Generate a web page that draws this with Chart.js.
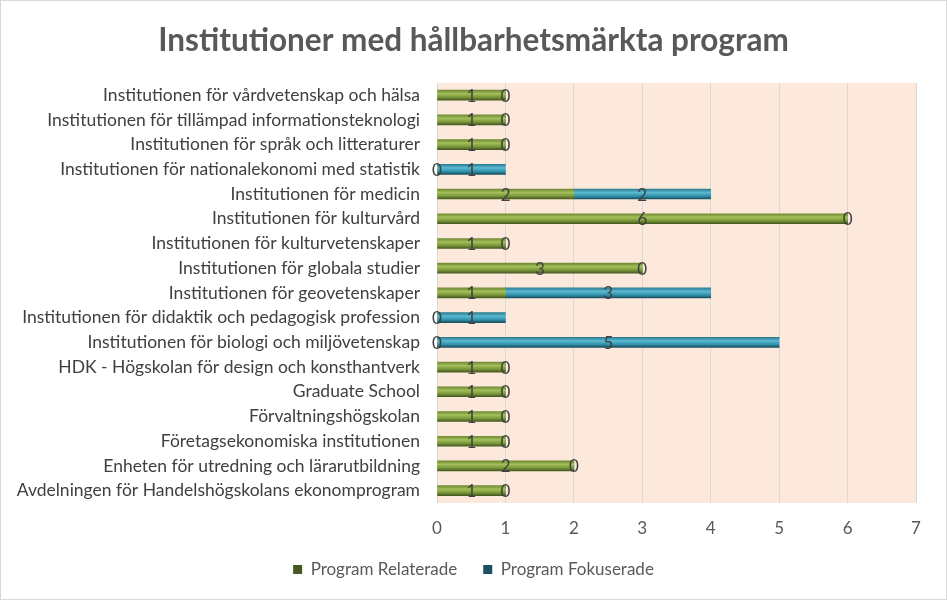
<!DOCTYPE html>
<html>
<head>
<meta charset="utf-8">
<script src="https://cdn.jsdelivr.net/npm/chart.js@4/dist/chart.umd.min.js"></script>
<style>
  html, body { margin: 0; padding: 0; background: #fff; }
  #wrap { width: 947px; height: 600px; position: relative; }
</style>
</head>
<body>
<div id="wrap"><canvas id="chart"></canvas></div>
<script>
// Categories, top to bottom as shown
const institutions = [
  'Institutionen för vårdvetenskap och hälsa',
  'Institutionen för tillämpad informationsteknologi',
  'Institutionen för språk och litteraturer',
  'Institutionen för nationalekonomi med statistik',
  'Institutionen för medicin',
  'Institutionen för kulturvård',
  'Institutionen för kulturvetenskaper',
  'Institutionen för globala studier',
  'Institutionen för geovetenskaper',
  'Institutionen för didaktik och pedagogisk profession',
  'Institutionen för biologi och miljövetenskap',
  'HDK - Högskolan för design och konsthantverk',
  'Graduate School',
  'Förvaltningshögskolan',
  'Företagsekonomiska institutionen',
  'Enheten för utredning och lärarutbildning',
  'Avdelningen för Handelshögskolans ekonomprogram'
];

const relaterade = [1, 1, 1, 0, 2, 6, 1, 3, 1, 0, 0, 1, 1, 1, 1, 2, 1];
const fokuserade = [0, 0, 0, 1, 2, 0, 0, 0, 3, 1, 5, 0, 0, 0, 0, 0, 0];

const xMin = 0;
const xMax = 7;

const FONT = 'Lato, "Open Sans", sans-serif';

// vertical shading so the thin bars look like the rounded Excel bars
function shaded(stops, flat) {
  return (c) => {
    if (c.type !== 'data') return flat;
    const y = c.chart.scales.y;
    if (!y) return flat;
    const mid = y.getPixelForValue(c.dataIndex);
    if (!Number.isFinite(mid)) return flat;
    const g = c.chart.ctx.createLinearGradient(0, mid - 5, 0, mid + 5);
    g.addColorStop(0, stops[0]);
    g.addColorStop(0.35, stops[1]);
    g.addColorStop(0.7, stops[2]);
    g.addColorStop(1, stops[3]);
    return g;
  };
}

const greenStops = ['#6f8a32', '#a2c05a', '#7a973a', '#46591f'];
const blueStops = ['#2a7d92', '#5cb8d1', '#3193ad', '#1a5060'];

const backdrop = {
  id: 'backdrop',
  beforeDraw(chart) {
    const { ctx, chartArea: a } = chart;
    ctx.save();
    ctx.fillStyle = '#fff';
    ctx.fillRect(0, 0, chart.width, chart.height);
    ctx.fillStyle = '#fde9dc';
    ctx.fillRect(a.left, a.top, a.right - a.left, a.bottom - a.top);
    ctx.strokeStyle = '#d9d9d9';
    ctx.lineWidth = 1;
    ctx.strokeRect(0.5, 0.5, chart.width - 1, chart.height - 1);
    ctx.restore();
  }
};

const segmentLabels = {
  id: 'segmentLabels',
  afterDatasetsDraw(chart) {
    const ctx = chart.ctx;
    ctx.save();
    ctx.font = '17px ' + FONT;
    ctx.fillStyle = '#404040';
    ctx.textAlign = 'center';
    ctx.textBaseline = 'middle';
    chart.data.datasets.forEach((ds, i) => {
      chart.getDatasetMeta(i).data.forEach((bar, j) => {
        ctx.fillText(ds.data[j], (bar.x + bar.base) / 2, bar.y + 1);
      });
    });
    ctx.restore();
  }
};

new Chart(document.getElementById('chart'), {
  type: 'bar',
  data: {
    labels: institutions,
    datasets: [
      {
        label: 'Program Relaterade',
        data: relaterade,
        backgroundColor: shaded(greenStops, '#77933c'),
        borderWidth: 0,
        barThickness: 10,
      },
      {
        label: 'Program Fokuserade',
        data: fokuserade,
        backgroundColor: shaded(blueStops, '#31859c'),
        borderWidth: 0,
        barThickness: 10,
      }
    ]
  },
  plugins: [backdrop, segmentLabels],
  options: {
    indexAxis: 'y',
    responsive: true,
    maintainAspectRatio: false,
    animation: false,
    layout: { padding: { left: 0, right: 0, top: 0, bottom: 12 } },
    plugins: {
      title: {
        display: true,
        text: 'Institutioner med hållbarhetsmärkta program',
        color: '#595959',
        font: { family: FONT, size: 31.5, weight: 'bold' },
        padding: { top: 22, bottom: 23 },
      },
      legend: {
        position: 'bottom',
        labels: {
          color: '#595959',
          font: { family: FONT, size: 17 },
          boxWidth: 9,
          boxHeight: 9,
          padding: 26,
        },
      },
      tooltip: { enabled: false },
    },
    scales: {
      x: {
        stacked: true,
        min: xMin,
        max: xMax,
        ticks: { stepSize: 1, color: '#595959', padding: 15, font: { family: FONT, size: 17 } },
        grid: { color: '#d9d9d9', drawTicks: false },
        border: { display: false },
        afterFit: (s) => { s.height = 32; },
      },
      y: {
        stacked: true,
        ticks: { color: '#404040', padding: 17, font: { family: FONT, size: 17.5 } },
        grid: { display: false, drawTicks: false },
        border: { display: false },
        afterFit: (s) => { s.width = 437; },
      },
      // empty right-hand margin so title and legend centre on the whole canvas
      yRight: {
        position: 'right',
        ticks: { display: false },
        grid: { display: false, drawTicks: false },
        border: { display: false },
        afterFit: (s) => { s.width = 31; },
      }
    }
  }
});
</script>
</body>
</html>
